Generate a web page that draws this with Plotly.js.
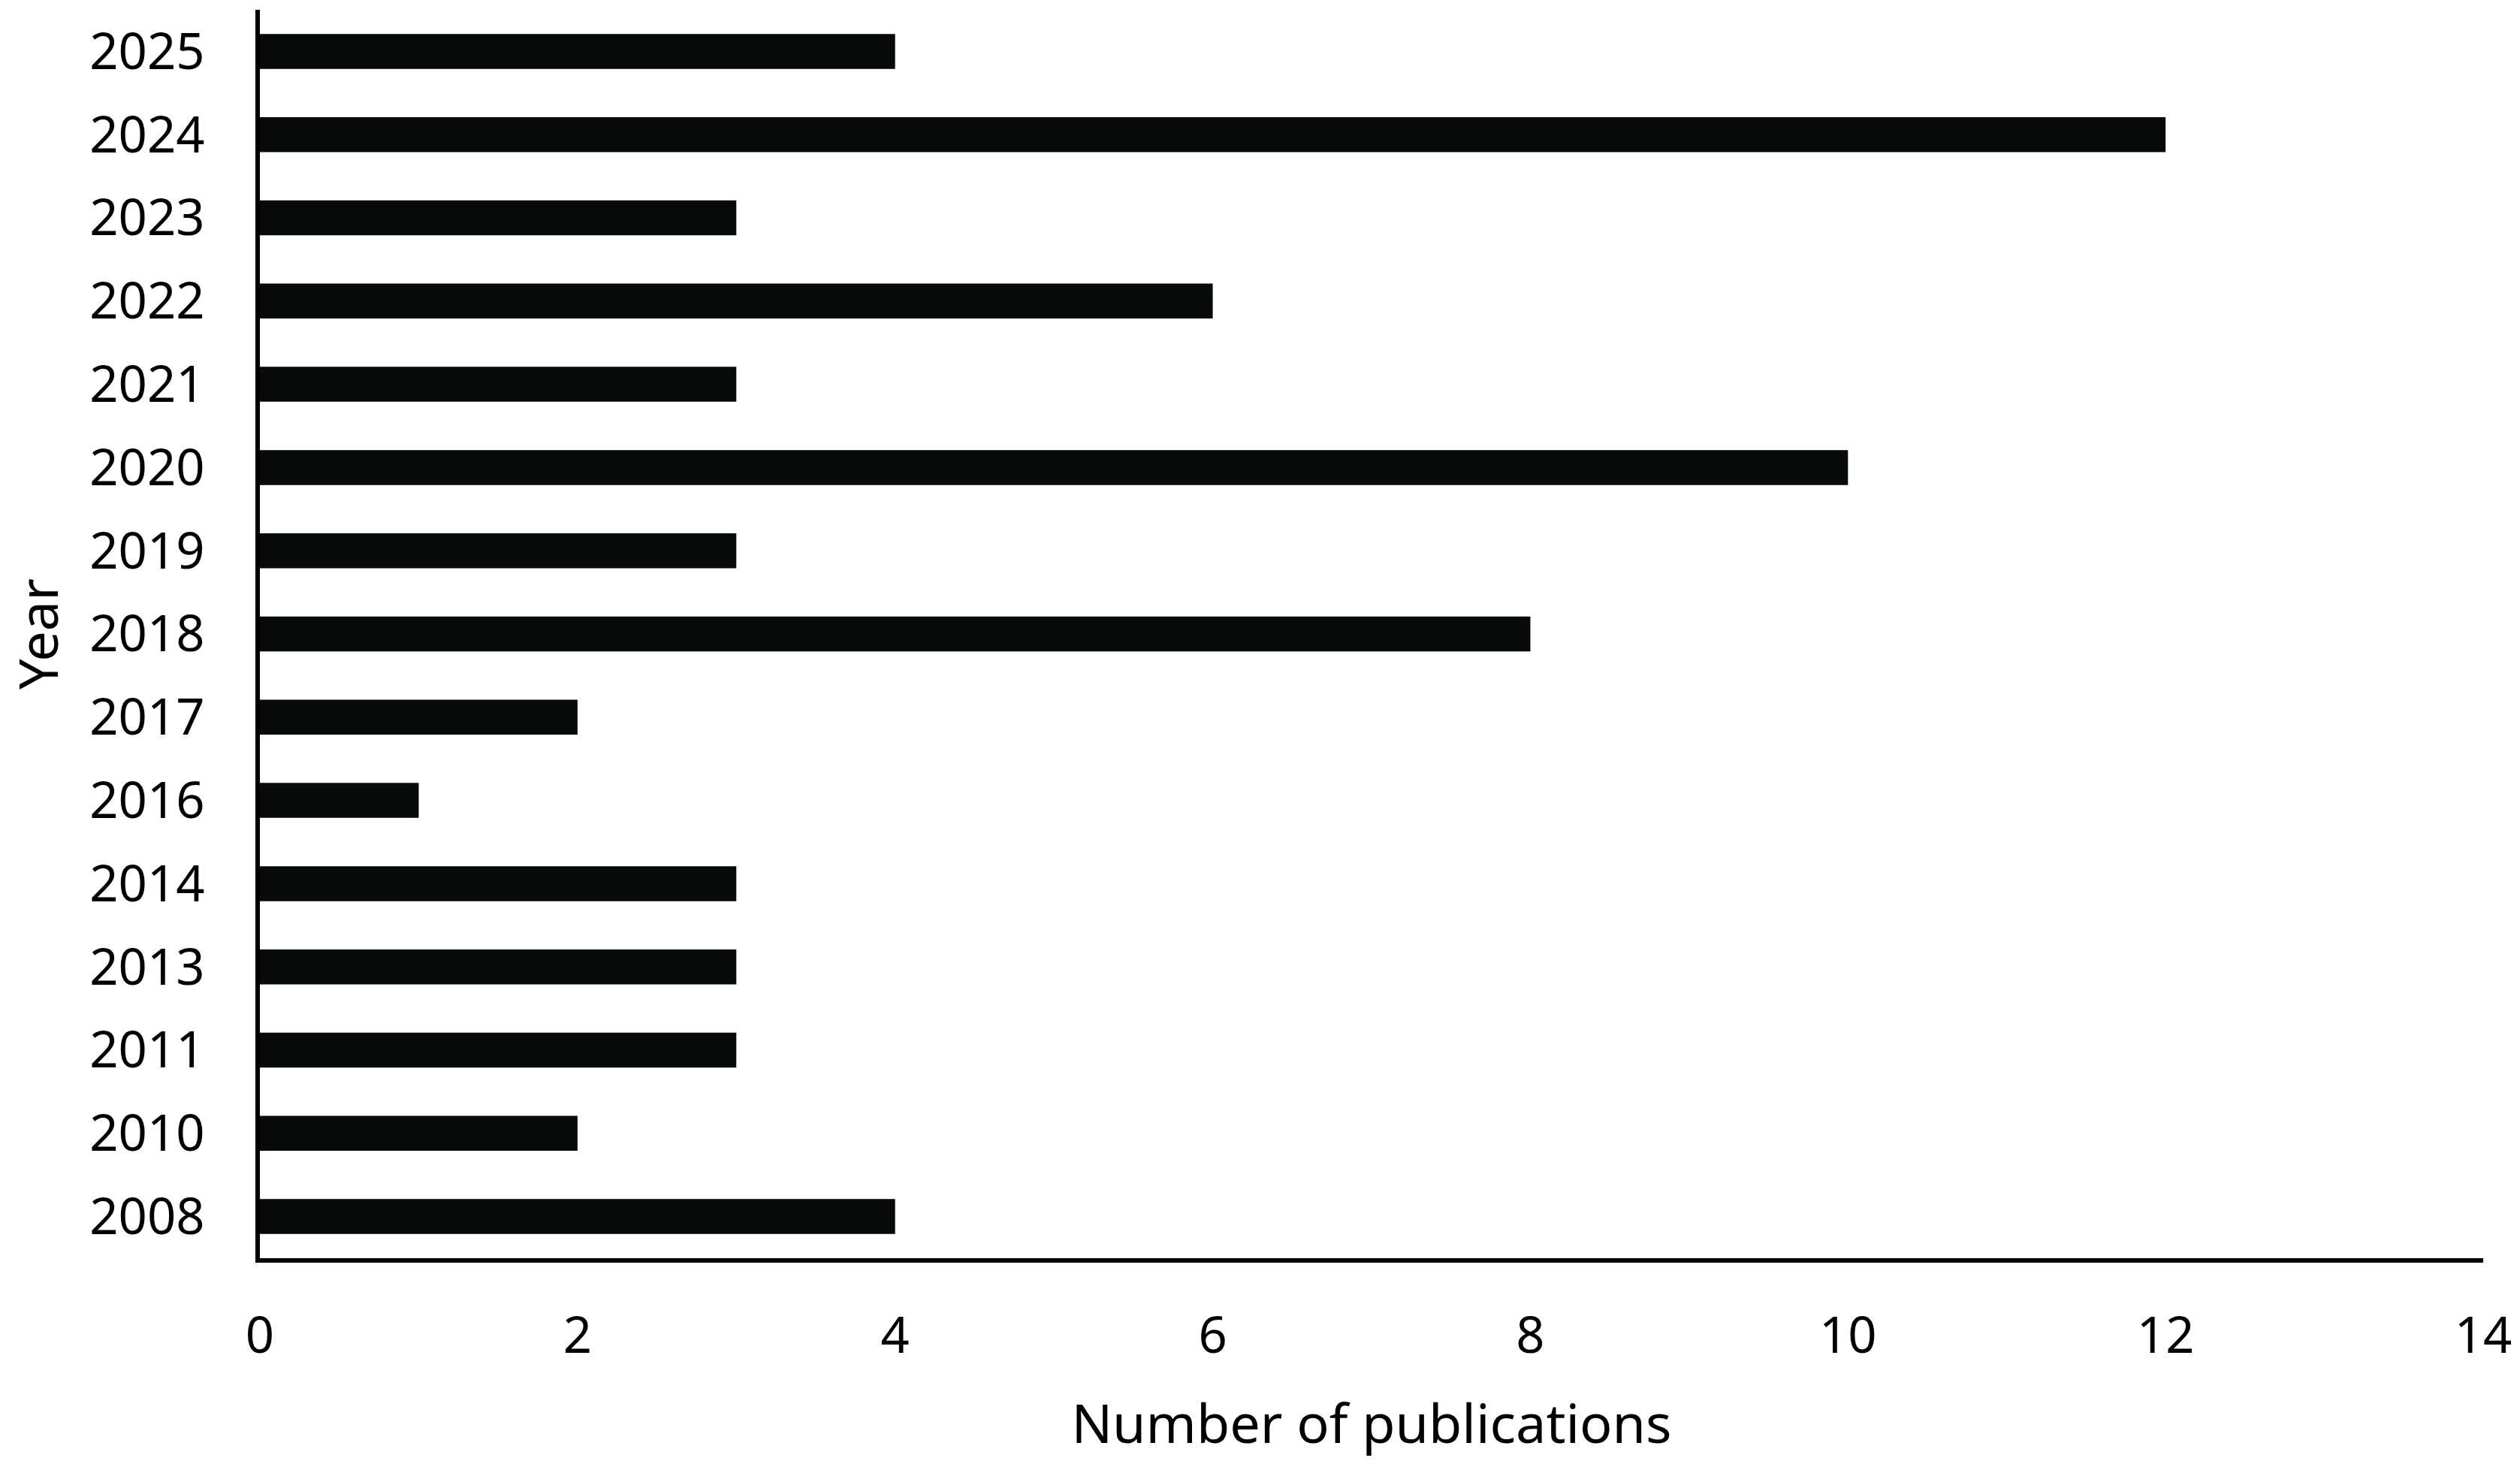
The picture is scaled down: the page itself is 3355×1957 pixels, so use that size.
<!DOCTYPE html>
<html>
<head>
<meta charset="utf-8">
<script src="https://cdn.plot.ly/plotly-3.0.1.min.js"></script>
<style>
html,body{margin:0;padding:0;background:#fff;}
#chart{width:3355px;height:1957px;}
</style>
</head>
<body>
<div id="chart"></div>
<script>
const years = ["2008","2010","2011","2013","2014","2016","2017","2018","2019","2020","2021","2022","2023","2024","2025"];
const publications = [4,2,3,3,3,1,2,8,3,10,3,6,3,12,4];
const xTickValues = [0,2,4,6,8,10,12,14];
const xTitle = "Number of publications";
const yTitle = "Year";

const FONT = "Noto Sans, Open Sans, sans-serif";

const trace = {
  type: "bar",
  orientation: "h",
  x: publications,
  y: years,
  marker: {color: "#060a0b", line: {width: 0}},
  hoverinfo: "x+y"
};

const layout = {
  width: 3355,
  height: 1957,
  margin: {l: 346, r: 49, t: 13, b: 282},
  paper_bgcolor: "#ffffff",
  plot_bgcolor: "#ffffff",
  showlegend: false,
  bargap: 0.58,
  font: {family: FONT, color: "#000000", size: 67},
  xaxis: {
    range: [0, 14],
    tickvals: xTickValues,
    ticktext: xTickValues.map(String),
    showgrid: false,
    zeroline: false,
    showline: true,
    linecolor: "#000000",
    linewidth: 6,
    ticks: "",
    ticklabelstandoff: 40,
    tickfont: {family: FONT, size: 67, color: "#000000"},
    title: {text: xTitle, font: {family: FONT, size: 72, color: "#000000"}, standoff: 52},
    automargin: false,
    fixedrange: true
  },
  yaxis: {
    type: "category",
    categoryorder: "array",
    categoryarray: years,
    showgrid: false,
    zeroline: false,
    showline: true,
    linecolor: "#000000",
    linewidth: 6,
    ticks: "",
    ticklabelstandoff: 54,
    tickfont: {family: FONT, size: 67, color: "#000000"},
    title: {text: yTitle, font: {family: FONT, size: 72, color: "#000000"}, standoff: 34},
    automargin: false,
    fixedrange: true
  }
};

Plotly.newPlot("chart", [trace], layout, {displayModeBar: false, staticPlot: true});
</script>
</body>
</html>
